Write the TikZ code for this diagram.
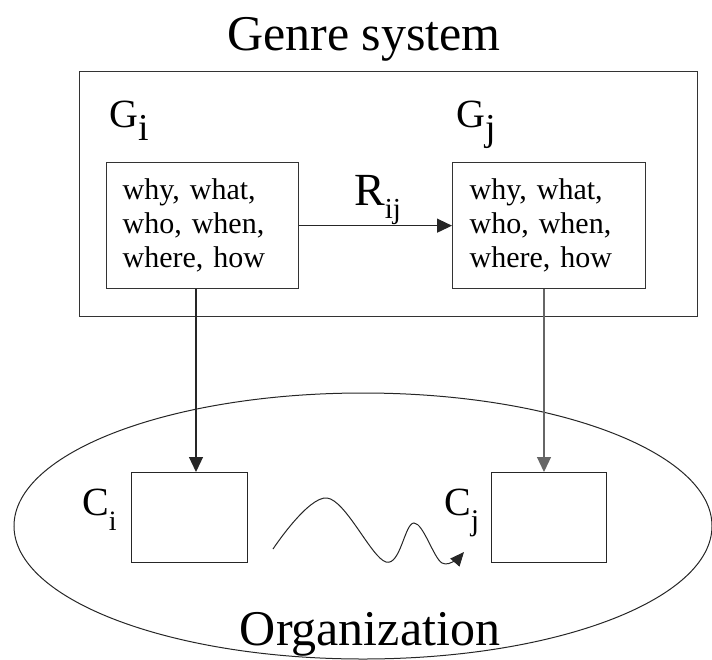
\documentclass[tikz,border=0pt]{standalone}
\usepackage{fontspec}
\setmainfont{Liberation Serif}
\usetikzlibrary{arrows.meta,shapes.geometric}
\tikzset{
  boxline/.style={draw=black!80, line width=1.3pt},
  qbox/.style={boxline, anchor=north west, inner ysep=0pt, inner xsep=16pt,
    text width=160pt, minimum height=126pt, align=left,
    font=\fontsize{30}{34}\selectfont},
  cbox/.style={draw=black!85, line width=1.2pt, anchor=north west, minimum width=116pt, minimum height=90pt, inner sep=0pt},
  lbl/.style={inner sep=0pt, anchor=base west},
  arr/.style={draw=black!85, line width=1.2pt, -{Triangle[length=15pt,width=14pt]}},
  warr/.style={draw=black!85, line width=1pt, -{Triangle[length=14pt,width=12pt]}},
}
\begin{document}
\begin{tikzpicture}[x=1pt,y=-1pt]
\useasboundingbox (0,0) rectangle (712,659);
% titles
\node[inner sep=0pt, anchor=base, font=\fontsize{50}{50}\selectfont] (gstitle) at (364,50) {Genre system};
% outer box
\node[boxline, anchor=north west, minimum width=618pt, minimum height=245pt, inner sep=0pt] (gs) at (79,71) {};
% labels G
\node[lbl, font=\fontsize{40}{40}\selectfont] (gi) at (109,127) {G\raisebox{-13pt}{\fontsize{38}{38}\selectfont i}};
\node[lbl, font=\fontsize{40}{40}\selectfont] (gj) at (456,127) {G\raisebox{-13pt}{\fontsize{38}{38}\selectfont j}};
% inner boxes
\node[qbox, minimum width=192pt] (bi) at (106,162) {why, what,\\who, when,\\where, how};
\node[qbox, minimum width=193pt, inner xsep=17pt, text width=159pt] (bj) at (452,162) {why, what,\\who, when,\\where, how};
% relation
\draw[arr] (bi.east) -- (bj.west);
\node[lbl, font=\fontsize{46}{46}\selectfont] (rij) at (354,205) {R\raisebox{-13pt}{\fontsize{29}{29}\selectfont ij}};
% organization
\node[ellipse, draw=black!85, line width=1pt, minimum width=698pt, minimum height=266pt, inner sep=0pt] (org) at (363,526) {};
\node[inner sep=0pt, anchor=base, font=\fontsize{50}{50}\selectfont] (orgt) at (370,645) {Organization};
% C boxes
\node[cbox] (ci) at (131,472) {};
\node[cbox, minimum width=115pt] (cj) at (491,472) {};
\node[lbl, font=\fontsize{40}{40}\selectfont] (cil) at (82,515) {C\raisebox{-15pt}{\fontsize{28}{28}\selectfont i}};
\node[lbl, font=\fontsize{40}{40}\selectfont] (cjl) at (444,515) {C\raisebox{-15pt}{\fontsize{30}{30}\selectfont j}};
% vertical arrows
\coordinate (xi) at (196,0);
\coordinate (xj) at (544,0);
\draw[arr] (bi.south -| xi) -- (ci.north -| xi);
\draw[arr, draw=black!60] (bj.south -| xj) -- (cj.north -| xj);
% wavy arrow
\coordinate (w0) at (273,549);
\coordinate (w1) at (327,498);
\coordinate (w2) at (386,562);
\coordinate (w3) at (414,523);
\coordinate (w4) at (442,563);
\coordinate (w5) at (464,552);
\draw[warr] plot[smooth, tension=0.6] coordinates {(w0) (w1) (w2) (w3) (w4) (w5)};
\end{tikzpicture}
\end{document}
